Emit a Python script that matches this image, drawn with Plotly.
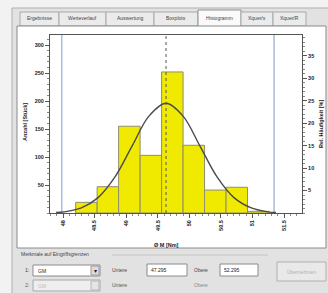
import plotly.graph_objects as go

W, H = 328, 293

# ---------------- data ----------------
bin_centers = [48.37, 48.71, 49.05, 49.39, 49.73, 50.07, 50.41, 50.75, 51.09]
counts = [19, 47, 155, 103, 252, 121, 41, 46, 3]
bin_width = 0.34

curve_x = [47.89, 48.02, 48.29, 48.55, 48.82, 49.09, 49.36, 49.63,
           49.90, 50.17, 50.44, 50.71, 50.98, 51.24, 51.37]
curve_y = [1, 2, 9, 27, 64, 119, 173, 196, 173, 119, 64, 27, 9, 2, 1]

lower_limit = 47.98
upper_limit = 51.34
center_value = 49.63

x_tickvals = [48.0, 48.5, 49.0, 49.5, 50.0, 50.5, 51.0, 51.5]
x_ticktext = ["48", "48.5", "49", "49.5", "50", "50.5", "51", "51.5"]
y_tickvals = [50, 100, 150, 200, 250, 300]
y2_tickvals = [5, 10, 15, 20, 25, 30, 35]

tab_names = ["Ergebnisse", "Werteverlauf", "Auswertung", "Boxplots",
             "Histogramm", "Xquer/s", "Xquer/R"]
tab_edges = [20, 59, 106, 154, 198, 241, 273, 306]
selected_tab = "Histogramm"

lower_text = "47.295"
upper_text = "52.295"

# ---------------- helpers ----------------
def fx(p):
    return p / W


def fy(p):
    return 1 - p / H


FONT = "Liberation Sans, Arial, sans-serif"
shapes = []
annotations = []


def rect(x0, y0, x1, y1, fill, line="#a0a0a0", lw=1):
    shapes.append(dict(type="rect", xref="paper", yref="paper",
                       x0=fx(x0), x1=fx(x1), y0=fy(y1), y1=fy(y0),
                       fillcolor=fill, line=dict(color=line, width=lw),
                       layer="below"))


def text(x, y, s, size=5.5, color="#333", anchor="left", bold=False, angle=0):
    annotations.append(dict(xref="paper", yref="paper", x=fx(x), y=fy(y),
                            text=s, showarrow=False, xanchor=anchor,
                            yanchor="middle", textangle=angle,
                            font=dict(family=FONT, size=size, color=color,
                                      weight="bold" if bold else "normal")))


# window background
rect(12, 8, 330, 295, "#e2e2e2", "#b0b0b0")
# tabs
for name, a, b in zip(tab_names, tab_edges[:-1], tab_edges[1:]):
    if name == selected_tab:
        rect(a, 10, b, 27, "#fafafa", "#909090")
    else:
        rect(a, 12, b, 26, "#ebebeb", "#a8a8a8")
    text((a + b) / 2, 18.5, name, size=5, color="#444", anchor="center")
# white chart panel
rect(17, 26, 326, 248, "#ffffff", "#8a8a8a")

# bottom controls
text(19, 254, "Merkmale auf Eingriffsgrenzen", size=5, color="#444")
shapes.append(dict(type="line", xref="paper", yref="paper",
                   x0=fx(112), x1=fx(268), y0=fy(255), y1=fy(255),
                   line=dict(color="#c4c4c4", width=1), layer="below"))
text(23, 270, "1:", size=5.5, color="#444")
rect(33, 265, 100, 276, "#ffffff", "#8a8a8a")
rect(91, 266, 99, 275, "#dcdcdc", "#9a9a9a")
text(95, 270.5, "▾", size=6, color="#222", anchor="center")
text(36, 270.5, "GM", size=5, color="#222")
text(110, 270, "Untere", size=5, color="#444")
rect(147, 264, 187, 276, "#ffffff", "#8a8a8a")
text(149, 270, lower_text, size=5, color="#222")
text(192, 270, "Obere", size=5, color="#444")
rect(220, 264, 258, 276, "#ffffff", "#8a8a8a")
text(222, 270, upper_text, size=5, color="#222")
rect(277, 262, 326, 281, "#e9e9e9", "#b0b0b0")
text(301.5, 271.5, "Übernehmen", size=5, color="#b0b0b0", anchor="center")
text(23, 285, "2:", size=5.5, color="#666")
rect(33, 280, 100, 291, "#eeeeee", "#a8a8a8")
rect(91, 281, 99, 290, "#e4e4e4", "#b8b8b8")
text(36, 285.5, "GM", size=5, color="#bbbbbb")
text(110, 285, "Untere", size=5, color="#555")
text(192, 285, "Obere", size=5, color="#888")

# axis titles
text(25, 122, "Anzahl [Stück]", size=5.5, color="#222", anchor="center",
     bold=True, angle=-90)
text(321, 124, "Rel. Häufigkeit [%]", size=5.5, color="#222", anchor="center",
     bold=True, angle=-90)
text(166, 245, "Ø M [Nm]", size=5.5, color="#222", anchor="center", bold=True)

# ---------------- figure ----------------
fig = go.Figure()
fig.add_trace(go.Bar(x=bin_centers, y=counts, width=bin_width,
                     marker=dict(color="#f0e900",
                                 line=dict(color="#8e8e70", width=1)),
                     hoverinfo="skip", showlegend=False))
fig.add_trace(go.Scatter(x=curve_x, y=curve_y, mode="lines",
                         line=dict(color="#4a4a4a", width=1.4,
                                   shape="spline", smoothing=1.0),
                         hoverinfo="skip", showlegend=False))
fig.add_trace(go.Scatter(x=[bin_centers[0]], y=[0], yaxis="y2", mode="markers",
                         marker=dict(opacity=0), hoverinfo="skip",
                         showlegend=False))

# limit lines and center line
for v in (lower_limit, upper_limit):
    shapes.append(dict(type="line", xref="x", yref="y domain", x0=v, x1=v,
                       y0=0, y1=1, line=dict(color="#aebfdc", width=1.6),
                       layer="below"))
shapes.append(dict(type="line", xref="x", yref="y domain",
                   x0=center_value, x1=center_value, y0=0, y1=1,
                   line=dict(color="#555555", width=1, dash="dot"),
                   layer="above"))

tickfont = dict(family=FONT, size=5.5, color="#222", weight="bold")
axcol = "#555555"

fig.update_layout(
    width=W, height=H,
    margin=dict(l=0, r=0, t=0, b=0),
    paper_bgcolor="#f2f2f2",
    plot_bgcolor="rgba(0,0,0,0)",
    bargap=0,
    hovermode=False,
    shapes=shapes,
    annotations=annotations,
    xaxis=dict(domain=[fx(50), fx(302)], range=[47.794, 51.782],
               tickmode="array", tickvals=x_tickvals, ticktext=x_ticktext,
               tickangle=-90, tickfont=tickfont, ticks="outside",
               ticklen=4, tickcolor=axcol, showgrid=False, zeroline=False,
               showline=True, linecolor=axcol, linewidth=1, mirror=True,
               minor=dict(ticks="outside", dtick=0.1, ticklen=2,
                          tickcolor="#888", showgrid=False)),
    yaxis=dict(domain=[fy(213), fy(35)], range=[0, 318],
               tickmode="array", tickvals=y_tickvals, tickfont=tickfont,
               ticks="outside", ticklen=4, tickcolor=axcol, showgrid=False,
               zeroline=False, showline=True, linecolor=axcol, linewidth=1,
               minor=dict(ticks="outside", dtick=10, ticklen=2,
                          tickcolor="#888", showgrid=False)),
    yaxis2=dict(overlaying="y", side="right", anchor="x", range=[0, 39.6],
                tickmode="array", tickvals=y2_tickvals, tickfont=tickfont,
                ticks="outside", ticklen=4, tickcolor=axcol, showgrid=False,
                zeroline=False, showline=True, linecolor=axcol, linewidth=1,
                minor=dict(ticks="outside", dtick=1, ticklen=2,
                           tickcolor="#888", showgrid=False)),
)

fig.write_html("out.html",
               config={"displayModeBar": False, "staticPlot": True},
               post_script="document.body.style.margin='0px';"
                           "document.body.style.overflow='hidden';")
